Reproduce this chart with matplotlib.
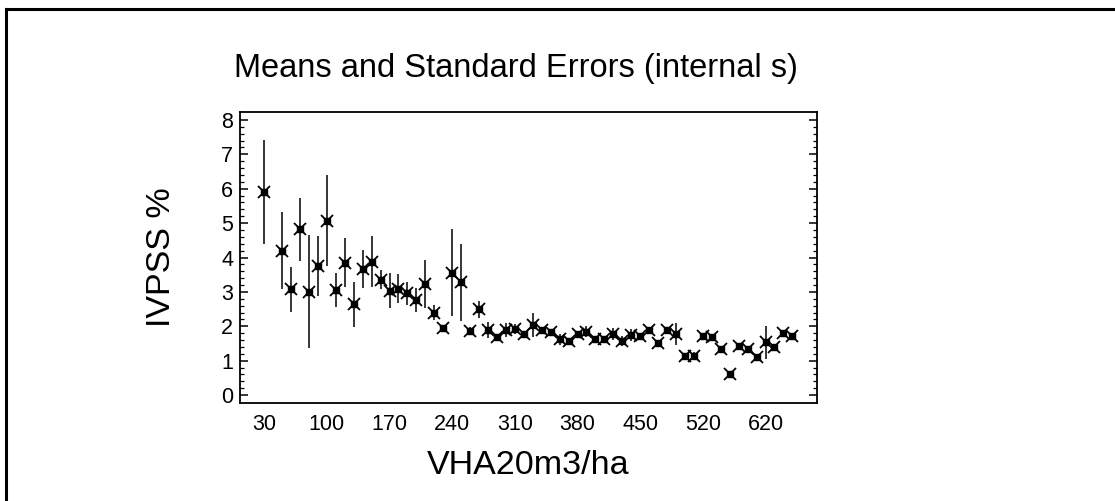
import numpy as np
import matplotlib
matplotlib.use("Agg")
import matplotlib.pyplot as plt
from matplotlib.lines import Line2D

plt.rcParams['font.family'] = ['Liberation Sans', 'DejaVu Sans']

# ---- data ----
categories = ([str(v) for v in range(30, 530, 10)]
              + ["530", "540", "550", "570", "580", "600"]
              + ["620", "630", "640", "650"])
means = [5.90, np.nan, 4.20, 3.07, 4.82, 3.01, 3.76, 5.07, 3.06, 3.85,
         2.64, 3.66, 3.88, 3.35, 3.03, 3.09, 2.96, 2.76, 3.23, 2.40,
         1.94, 3.56, 3.28, 1.86, 2.49, 1.89, 1.70, 1.89, 1.93, 1.77,
         2.04, 1.89, 1.82, 1.62, 1.58, 1.79, 1.84, 1.63, 1.62, 1.77,
         1.58, 1.75, 1.73, 1.89, 1.52, 1.89, 1.79, 1.13, 1.13, 1.73,
         1.68, 1.33, 0.60, 1.43, 1.33, 1.12, 1.53, 1.41, 1.81, 1.73]
std_errors = [1.52, np.nan, 1.13, 0.64, 0.92, 1.65, 0.87, 1.33, 0.50, 0.72,
              0.66, 0.56, 0.74, 0.28, 0.51, 0.42, 0.33, 0.35, 0.69, 0.23,
              0.05, 1.27, 1.12, 0.12, 0.25, 0.24, 0.06, 0.21, 0.14, 0.06,
              0.35, 0.06, 0.08, 0.15, 0.08, 0.08, 0.16, 0.06, 0.06, 0.17,
              0.15, 0.17, 0.05, 0.06, 0.04, 0.07, 0.32, 0.10, 0.12, 0.04,
              0.04, 0.04, 0.04, 0.04, 0.04, 0.06, 0.48, 0.04, 0.04, 0.04]
tick_labels = ["30", "100", "170", "240", "310", "380", "450", "520", "620"]
y_ticks = [0, 1, 2, 3, 4, 5, 6, 7, 8]

title = "Means and Standard Errors (internal s)"
x_label = "VHA20m3/ha"
y_label = "IVPSS %"

# ---- figure ----
W, H = 1115, 501
fig = plt.figure(figsize=(W / 100, H / 100), dpi=100)
fig.patch.set_facecolor("white")

# outer frame (top and left edges visible)
fig.add_artist(Line2D([6 / W, 1.0], [1 - 9 / H, 1 - 9 / H], color="black", lw=2.2,
                      transform=fig.transFigure))
fig.add_artist(Line2D([6 / W, 6 / W], [0, 1 - 9 / H], color="black", lw=2.2,
                      transform=fig.transFigure))

ax = fig.add_axes([240 / W, (H - 403) / H, 577 / W, 291 / H])

x = np.arange(len(categories))
m = np.array(means, dtype=float)
se = np.array(std_errors, dtype=float)

ax.errorbar(x, m, yerr=se, fmt="none", ecolor="black", elinewidth=1.1, capsize=0)
ax.plot(x, m, linestyle="none", marker="x", markersize=8, markeredgewidth=1.3, color="black")
ax.plot(x, m, linestyle="none", marker="s", markersize=4, color="black")

ax.set_xlim(-2.7, 61.75)
ax.set_ylim(-0.23, 8.23)

tick_pos = [categories.index(t) for t in tick_labels]
ax.set_xticks(tick_pos)
ax.set_xticklabels(tick_labels, fontsize=15.5)
ax.tick_params(axis="x", length=0, pad=8)

ax.set_yticks(y_ticks)
ax.set_yticklabels([str(v) for v in y_ticks], fontsize=15.5)
ax.set_yticks(np.arange(0, 8.01, 0.2), minor=True)
ax.tick_params(axis="y", which="major", direction="in", length=6, width=1.1,
               left=True, right=True, pad=5)
ax.tick_params(axis="y", which="minor", direction="in", length=3, width=0.9,
               left=True, right=True)

for s in ax.spines.values():
    s.set_linewidth(1.3)

fig.text(516 / W, 1 - 68 / H, title, ha="center", va="center", fontsize=23.5)
fig.text(528 / W, 1 - 465 / H, x_label, ha="center", va="center", fontsize=24.5)
fig.text(162 / W, 1 - 257 / H, y_label, ha="center", va="center", fontsize=24.5, rotation=90)

fig.savefig("out.png", dpi=100, facecolor="white")
